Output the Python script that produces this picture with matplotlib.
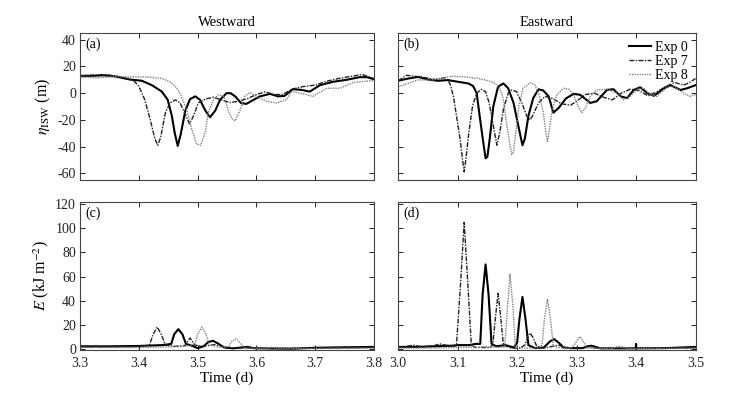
import numpy as np
import matplotlib
matplotlib.use("Agg")
import matplotlib.pyplot as plt

plt.rcParams['font.family'] = ['Liberation Serif', 'DejaVu Serif']
plt.rcParams['mathtext.fontset'] = 'stix'
plt.rcParams['axes.unicode_minus'] = False

# ---- data ----
# (a) westward isopycnal displacement
wa_t0 = [3.30, 3.32, 3.34, 3.36, 3.385, 3.405, 3.422, 3.439, 3.449, 3.456, 3.461, 3.466, 3.471,
         3.479, 3.487, 3.496, 3.504, 3.513, 3.521, 3.530, 3.538, 3.549, 3.556, 3.564, 3.574, 3.583,
         3.595, 3.606, 3.623, 3.637, 3.648, 3.662, 3.676, 3.691, 3.708, 3.730, 3.753, 3.776, 3.788, 3.80]
wa_v0 = [13, 13, 13.4, 12.5, 10.2, 9.3, 6, 1.2, -5, -17, -30, -39.5, -31,
         -13, -4.4, -2.4, -5, -13, -18, -13, -5, 0, 0, -2.4, -7.5, -8,
         -5, -2.4, -0.5, -2.4, -2, 3, 2.5, 1.2, 6, 8.5, 10, 12, 12, 10.5]
wa_t7 = [3.30, 3.32, 3.34, 3.36, 3.38, 3.392, 3.40, 3.41, 3.419, 3.427, 3.432, 3.437, 3.445, 3.453,
         3.462, 3.47, 3.479, 3.486, 3.493, 3.501, 3.513, 3.527, 3.54, 3.555, 3.57, 3.585, 3.60, 3.615,
         3.63, 3.645, 3.66, 3.68, 3.70, 3.72, 3.74, 3.76, 3.78, 3.80]
wa_v7 = [13, 13.5, 14, 13, 11, 9, 5, -5, -19.5, -34, -39, -33, -14.6, -7.3,
         -5, -7.3, -16, -23, -17, -7.3, -4.4, -3, -5, -7, -6, -4, -1, 1,
         -1, -1, 3, 5, 6, 9, 11, 12.5, 14, 11]
wa_t8 = [3.30, 3.33, 3.36, 3.385, 3.413, 3.439, 3.453, 3.462, 3.47, 3.481, 3.49, 3.498, 3.505, 3.513,
         3.518, 3.527, 3.535, 3.545, 3.552, 3.558, 3.564, 3.572, 3.58, 3.589, 3.60, 3.617, 3.634, 3.651,
         3.66, 3.68, 3.696, 3.72, 3.742, 3.765, 3.787, 3.80]
wa_v8 = [12, 11.5, 12.5, 12.2, 12.2, 11, 8.5, 5, 0, -12, -27, -38, -39, -29,
         -14.6, -5, -1.2, -2.4, -13, -19, -20.7, -13, -2.4, 0.5, -2.4, -6, -7.3, -5,
         1.2, -0.5, -2.4, 3.7, 3.7, 8, 9, 9.3]

# (b) eastward isopycnal displacement
eb_t0 = [3.00, 3.017, 3.034, 3.05, 3.067, 3.084, 3.101, 3.118, 3.126, 3.132, 3.137, 3.143, 3.147, 3.15,
         3.154, 3.16, 3.168, 3.177, 3.185, 3.194, 3.202, 3.209, 3.213, 3.219, 3.227, 3.236, 3.244, 3.253,
         3.261, 3.27, 3.282, 3.295, 3.306, 3.323, 3.334, 3.351, 3.362, 3.374, 3.385, 3.396, 3.407, 3.419,
         3.43, 3.447, 3.458, 3.475, 3.486, 3.50]
eb_v0 = [9.3, 11, 12.2, 10.2, 9.3, 9.8, 8.5, 7.3, 5.4, 0, -17, -36.6, -48.8, -47.6,
         -34, -9.8, 4.9, 7.3, 3.7, -7.3, -24.4, -39, -34, -17, -3.7, 2.9, 2, -2.4,
         -14.6, -11, -4, -0.5, -1.2, -7.3, -6, 2.4, 3, -2.4, -3.7, 2.4, 4.4, 0,
         -2, 3.7, 6, 2.4, 3.7, 6]
eb_t7 = [3.00, 3.014, 3.028, 3.045, 3.062, 3.079, 3.087, 3.093, 3.098, 3.104, 3.108, 3.111, 3.114, 3.119,
         3.125, 3.132, 3.14, 3.147, 3.153, 3.16, 3.166, 3.171, 3.177, 3.185, 3.191, 3.199, 3.208, 3.216,
         3.222, 3.227, 3.236, 3.247, 3.26, 3.275, 3.29, 3.30, 3.315, 3.33, 3.345, 3.36, 3.375, 3.39,
         3.405, 3.42, 3.435, 3.45, 3.465, 3.48, 3.49, 3.50]
eb_v7 = [9.3, 13.4, 12.7, 11.7, 10.2, 11.7, 7.3, -2.4, -17, -34, -48.8, -59, -48.8, -29,
         -9.8, 0, 2.9, 1.2, -7.3, -24.4, -39, -29, -12, 0, 2.4, 1.2, -7.3, -17,
         -20, -16, -7.3, -2.4, -4, -8, -9, -6, -1, 0, -3, -5, 0, 3,
         2, -2, 1, 5, 8, 6, 8, 11]
eb_t8 = [3.00, 3.017, 3.034, 3.056, 3.073, 3.09, 3.112, 3.135, 3.152, 3.163, 3.171, 3.177, 3.182, 3.188,
         3.191, 3.194, 3.198, 3.203, 3.21, 3.222, 3.23, 3.238, 3.244, 3.248, 3.251, 3.255, 3.259, 3.267,
         3.278, 3.287, 3.295, 3.304, 3.309, 3.315, 3.323, 3.334, 3.351, 3.368, 3.379, 3.391, 3.402, 3.413,
         3.424, 3.435, 3.452, 3.464, 3.48, 3.491, 3.50]
eb_v8 = [4.9, 7.3, 10, 9.8, 11, 12.7, 12.2, 11, 9.3, 7.3, 3.7, -4.9, -22, -39,
         -46, -44, -29, -9.8, 3.7, 7.8, 6, -2.4, -14.6, -28, -36, -25, -12, -1.2,
         3.7, 3, -1.2, -11, -14.6, -11, -2.4, 2.4, 3, 0, -5, -2, 3, 3.7,
         -1.2, -2.4, 4.4, 5.4, 0, -2.4, -1]

# (c) westward energy
wc_t0 = [3.30, 3.35, 3.40, 3.44, 3.455, 3.46, 3.467, 3.474, 3.48, 3.49, 3.50, 3.51, 3.518, 3.526,
         3.534, 3.545, 3.56, 3.578, 3.585, 3.595, 3.62, 3.66, 3.70, 3.75, 3.80]
wc_v0 = [2, 2, 2.3, 3, 4, 12, 16.3, 12, 4, 2.5, 0.5, 2, 5.5, 6.6,
         4.5, 1, 0.3, 1.2, 1.5, 0.5, 0.2, 0, 0.8, 1.2, 1.5]
wc_t7 = [3.30, 3.35, 3.40, 3.418, 3.424, 3.431, 3.438, 3.445, 3.46, 3.478, 3.487, 3.495, 3.51, 3.53,
         3.55, 3.60, 3.70, 3.80]
wc_v7 = [1.5, 1.5, 1.8, 3, 12, 18, 12, 3, 2, 2.5, 8.9, 3, 2, 3.5,
         1, 0.3, 0.5, 1]
wc_t8 = [3.30, 3.40, 3.45, 3.48, 3.495, 3.50, 3.507, 3.514, 3.52, 3.54, 3.553, 3.558, 3.565, 3.572,
         3.58, 3.62, 3.626, 3.632, 3.70, 3.80]
wc_v8 = [1, 1, 1.5, 2, 4, 12, 18, 12, 3, 1, 2, 6, 8.3, 5,
         0.5, 0.5, 1.2, 0.5, 0.2, 0.5]

# (d) eastward energy
ed_t0 = [3.00, 3.03, 3.06, 3.09, 3.10, 3.12, 3.13, 3.138, 3.142, 3.147, 3.152, 3.157, 3.165, 3.18,
         3.195, 3.20, 3.204, 3.209, 3.214, 3.219, 3.23, 3.245, 3.255, 3.262, 3.27, 3.278, 3.29, 3.31,
         3.318, 3.325, 3.332, 3.34, 3.37, 3.3995, 3.40, 3.4005, 3.45, 3.50]
ed_v0 = [1.5, 1.5, 2, 2.5, 3, 3, 4, 4, 45, 70, 45, 4, 2, 3,
         1, 5, 25, 43, 25, 3, 0.5, 1, 6, 8, 5, 1, 0.5, 0.5,
         2, 2.5, 1.5, 0.3, 0.3, 0.3, 4, 0.3, 0.5, 1.5]
ed_t7 = [3.00, 3.015, 3.025, 3.04, 3.06, 3.07, 3.08, 3.095, 3.098, 3.105, 3.111, 3.117, 3.123, 3.13,
         3.155, 3.159, 3.164, 3.168, 3.172, 3.177, 3.19, 3.205, 3.213, 3.218, 3.222, 3.227, 3.233, 3.245,
         3.26, 3.27, 3.28, 3.30, 3.315, 3.322, 3.33, 3.36, 3.40, 3.45, 3.50]
ed_v7 = [1, 2, 3, 1.5, 2.5, 4, 3, 2, 3, 55, 105, 55, 3, 1,
         1, 3, 28, 46, 28, 3, 0.5, 0.5, 3, 10, 13, 9, 2, 0.5,
         2, 3, 1, 0.3, 1, 2, 0.5, 0.3, 0.3, 0.5, 0.5]
ed_t8 = [3.00, 3.05, 3.10, 3.15, 3.179, 3.184, 3.188, 3.193, 3.197, 3.21, 3.235, 3.242, 3.246, 3.251,
         3.256, 3.261, 3.275, 3.29, 3.296, 3.302, 3.306, 3.31, 3.318, 3.34, 3.36, 3.366, 3.372, 3.378,
         3.385, 3.45, 3.50]
ed_v8 = [0.5, 0.5, 1, 1.5, 1, 35, 62, 35, 1, 0.5, 0.5, 3, 25, 41,
         25, 2, 0.5, 0.5, 3, 8, 10, 7, 0.5, 0.3, 0.3, 1.5, 2, 1.5,
         0.3, 0.3, 0.5]

labels = ['Exp 0', 'Exp 7', 'Exp 8']
styles = [dict(color='black', lw=1.5, ls='-'),
          dict(color='#222222', lw=1.0, ls=(0, (3.5, 1, 1, 1))),
          dict(color='#808080', lw=1.0, ls=(0, (1, 0.8)))]

fig = plt.figure(figsize=(7.36, 3.99), dpi=100)
ax_a = fig.add_axes([0.109, 0.549, 0.399, 0.368])
ax_b = fig.add_axes([0.541, 0.549, 0.404, 0.368])
ax_c = fig.add_axes([0.109, 0.123, 0.399, 0.371])
ax_d = fig.add_axes([0.541, 0.123, 0.404, 0.371])

panels = [
    (ax_a, [(wa_t0, wa_v0), (wa_t7, wa_v7), (wa_t8, wa_v8)], '(a)'),
    (ax_b, [(eb_t0, eb_v0), (eb_t7, eb_v7), (eb_t8, eb_v8)], '(b)'),
    (ax_c, [(wc_t0, wc_v0), (wc_t7, wc_v7), (wc_t8, wc_v8)], '(c)'),
    (ax_d, [(ed_t0, ed_v0), (ed_t7, ed_v7), (ed_t8, ed_v8)], '(d)'),
]

for ax, series, tag in panels:
    for (t, v), st, lab in zip(series, styles, labels):
        ax.plot(t, v, label=lab, **st)
    ax.tick_params(direction='in', top=True, right=True, length=3.5, width=0.7,
                   labelsize=10, colors='#222222')
    ax.tick_params(axis='x', pad=5)
    ax.tick_params(axis='y', pad=3)
    for sp in ax.spines.values():
        sp.set_color('#444444')
        sp.set_linewidth(0.8)
    ax.text(0.018, 0.97, tag, transform=ax.transAxes, ha='left', va='top', fontsize=10)

for ax in (ax_a, ax_b):
    ax.set_ylim(-65, 45)
    ax.set_yticks([-60, -40, -20, 0, 20, 40])
    ax.tick_params(labelbottom=False)
for ax in (ax_c, ax_d):
    ax.set_ylim(-1, 122)
    ax.set_yticks(np.arange(0, 121, 20))
    ax.set_xlabel('Time (d)', fontsize=11, labelpad=1)
for ax in (ax_a, ax_c):
    ax.set_xlim(3.3, 3.8)
    ax.set_xticks([3.3, 3.4, 3.5, 3.6, 3.7, 3.8])
    ax.set_xticklabels(['3.3', '3.4', '3.5', '3.6', '3.7', '3.8'])
for ax in (ax_b, ax_d):
    ax.set_xlim(3.0, 3.5)
    ax.set_xticks([3.0, 3.1, 3.2, 3.3, 3.4, 3.5])
    ax.set_xticklabels(['3.0', '3.1', '3.2', '3.3', '3.4', '3.5'])
    ax.tick_params(labelleft=False)

ax_a.set_title('Westward', fontsize=10.5, pad=5)
ax_b.set_title('Eastward', fontsize=10.5, pad=5)
ax_a.set_ylabel(r'$\eta_{\rm ISW}$ (m)', fontsize=11.5, labelpad=3)
ax_c.set_ylabel(r'$E$ (kJ m$^{-2}$)', fontsize=11.5, labelpad=3)

ax_b.legend(loc='upper right', frameon=False, fontsize=10, handlelength=1.6,
            handletextpad=0.3, labelspacing=0.08, borderaxespad=0.15)

fig.savefig('out.png', dpi=100)
